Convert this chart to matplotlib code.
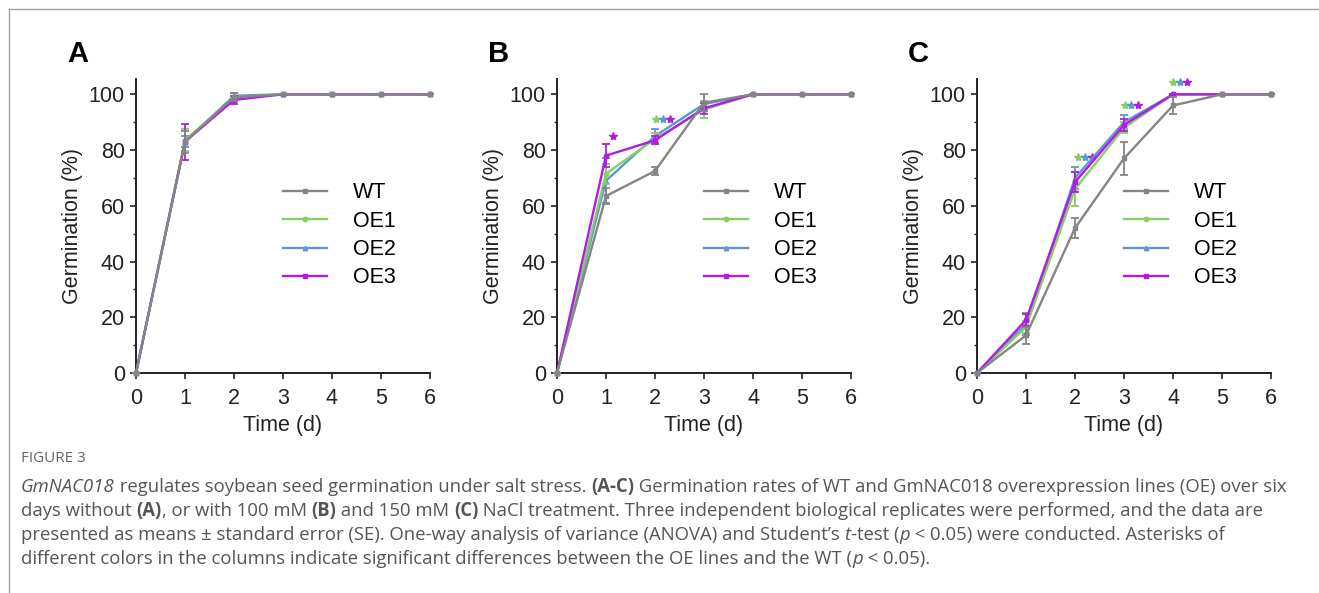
import numpy as np
import matplotlib
matplotlib.use("Agg")
import matplotlib.pyplot as plt
from matplotlib.lines import Line2D

plt.rcParams["font.family"] = ["Liberation Sans", "DejaVu Sans"]

days = [0, 1, 2, 3, 4, 5, 6]
series = ["WT", "OE1", "OE2", "OE3"]

# panel A: no NaCl
a_wt = [0, 83, 99, 100, 100, 100, 100]
a_oe1 = [0, 83.5, 99, 100, 100, 100, 100]
a_oe2 = [0, 83, 99.5, 100, 100, 100, 100]
a_oe3 = [0, 83, 98, 100, 100, 100, 100]
a_wt_se = [0, 4, 1.5, 0, 0, 0, 0]
a_oe1_se = [0, 4, 1.5, 0, 0, 0, 0]
a_oe2_se = [0, 2, 1, 0, 0, 0, 0]
a_oe3_se = [0, 6.5, 1.5, 0, 0, 0, 0]

# panel B: 100 mM NaCl
b_wt = [0, 63.5, 72.5, 97, 100, 100, 100]
b_oe1 = [0, 71.5, 84, 94.5, 100, 100, 100]
b_oe2 = [0, 69, 85, 96.5, 100, 100, 100]
b_oe3 = [0, 78, 83.5, 95, 100, 100, 100]
b_wt_se = [0, 3, 1.5, 3, 0, 0, 0]
b_oe1_se = [0, 3.5, 2, 3, 0, 0, 0]
b_oe2_se = [0, 8, 2.5, 1, 0, 0, 0]
b_oe3_se = [0, 4, 1.5, 2, 0, 0, 0]

# panel C: 150 mM NaCl
c_wt = [0, 13.5, 52, 77, 96, 100, 100]
c_oe1 = [0, 16.5, 66, 88, 100, 100, 100]
c_oe2 = [0, 17.5, 70, 90, 100, 100, 100]
c_oe3 = [0, 19, 68.5, 89, 100, 100, 100]
c_wt_se = [0, 3, 3.5, 6, 3, 0, 0]
c_oe1_se = [0, 2, 6, 2, 0, 0, 0]
c_oe2_se = [0, 4, 4, 2.5, 0, 0, 0]
c_oe3_se = [0, 2, 3.5, 2, 0, 0, 0]

# significance asterisks: (x, y, series)
b_stars = [(1.14, 85, "OE3"), (2.03, 91.3, "OE1"), (2.17, 91.3, "OE2"), (2.30, 91.3, "OE3")]
c_stars = [(2.06, 77.6, "OE1"), (2.20, 77.6, "OE2"), (2.34, 77.6, "OE3"),
           (3.03, 96, "OE1"), (3.15, 96, "OE2"), (3.28, 96, "OE3"),
           (4.00, 104.4, "OE1"), (4.14, 104.4, "OE2"), (4.28, 104.4, "OE3")]

colors = {"WT": "#858585", "OE1": "#86CF62", "OE2": "#5A98D6", "OE3": "#B21AE8"}
markers = {"WT": "s", "OE1": "o", "OE2": "^", "OE3": "s"}
zorders = {"WT": 5, "OE1": 3, "OE2": 2, "OE3": 4}

W, H = 1319, 593
fig = plt.figure(figsize=(W / 100, H / 100), dpi=100)

# frame lines of the figure page
fig.add_artist(Line2D([9 / W, 1], [1 - 9 / H, 1 - 9 / H], color="#a0a0a0", lw=1.0))
fig.add_artist(Line2D([9 / W, 9 / W], [0, 1 - 9 / H], color="#a0a0a0", lw=1.0))


def draw_panel(left_px, letter, means, errs, stars):
    ax = fig.add_axes([left_px / W, (H - 373) / H, 294 / W, 294 / H])
    handles = []
    for name, m, e in zip(series, means, errs):
        c = colors[name]
        ax.errorbar(days, m, yerr=e, color=c, lw=1.7, elinewidth=1.3,
                    capsize=3.2, capthick=1.3, marker=markers[name], ms=3.2,
                    zorder=zorders[name], clip_on=False)
        handles.append(Line2D([], [], color=c, lw=1.7, marker=markers[name], ms=3.2))
    for x, y, name in stars:
        ax.plot(x, y, marker="*", ms=6, color=colors[name], ls="none", clip_on=False)

    ax.set_xlim(0, 6)
    ax.set_ylim(0, 105.5)
    ax.set_xticks(days)
    ax.set_yticks([0, 20, 40, 60, 80, 100])
    ax.set_yticks([10, 30, 50, 70, 90], minor=True)
    ax.spines["top"].set_visible(False)
    ax.spines["right"].set_visible(False)
    for s in ("left", "bottom"):
        ax.spines[s].set_linewidth(1.4)
        ax.spines[s].set_color("#222222")
    ax.tick_params(axis="both", which="major", length=4, width=1.2,
                   labelsize=15.5, colors="#222222")
    ax.tick_params(axis="x", which="major", pad=7)
    ax.tick_params(axis="y", which="major", pad=4)
    ax.tick_params(axis="y", which="minor", length=2.5, width=1.0, colors="#222222")
    ax.set_xlabel("Time (d)", fontsize=15.5, color="#222222", labelpad=4)
    ax.set_ylabel("Germination (%)", fontsize=15.5, color="#222222", labelpad=4)

    ax.legend(handles, series, loc="upper left", bbox_to_anchor=(0.5, 0.648),
              frameon=False, fontsize=15.5, handlelength=2.05, handletextpad=1.2,
              labelspacing=0.34, borderpad=0, borderaxespad=0)

    fig.text((left_px - 69) / W, 1 - 54 / H, letter, fontsize=21, fontweight="bold",
             ha="left", va="center", color="black")
    return ax


draw_panel(136, "A", [a_wt, a_oe1, a_oe2, a_oe3], [a_wt_se, a_oe1_se, a_oe2_se, a_oe3_se], [])
draw_panel(557, "B", [b_wt, b_oe1, b_oe2, b_oe3], [b_wt_se, b_oe1_se, b_oe2_se, b_oe3_se], b_stars)
draw_panel(977, "C", [c_wt, c_oe1, c_oe2, c_oe3], [c_wt_se, c_oe1_se, c_oe2_se, c_oe3_se], c_stars)

# caption
cap_font = ["Open Sans", "DejaVu Sans"]
cap_color = "#555555"
cap_size = 13.35

fig.text(21 / W, 1 - 459 / H, "FIGURE 3", fontsize=11, color="#666666",
         family=cap_font, va="center", ha="left")

caption_lines = [
    [("GmNAC018", "italic", "normal"),
     (" regulates soybean seed germination under salt stress. ", "normal", "normal"),
     ("(A-C)", "normal", "bold"),
     (" Germination rates of WT and GmNAC018 overexpression lines (OE) over six", "normal", "normal")],
    [("days without ", "normal", "normal"), ("(A)", "normal", "bold"),
     (", or with 100 mM ", "normal", "normal"), ("(B)", "normal", "bold"),
     (" and 150 mM ", "normal", "normal"), ("(C)", "normal", "bold"),
     (" NaCl treatment. Three independent biological replicates were performed, and the data are",
      "normal", "normal")],
    [("presented as means \u00b1 standard error (SE). One-way analysis of variance (ANOVA) and Student\u2019s ",
      "normal", "normal"),
     ("t", "italic", "normal"), ("-test (", "normal", "normal"), ("p", "italic", "normal"),
     (" < 0.05) were conducted. Asterisks of", "normal", "normal")],
    [("different colors in the columns indicate significant differences between the OE lines and the WT (",
      "normal", "normal"),
     ("p", "italic", "normal"), (" < 0.05).", "normal", "normal")],
]
line_y = [487, 511, 535, 559]

renderer = fig.canvas.get_renderer()
for runs, y in zip(caption_lines, line_y):
    x = 21.0
    for txt, style, weight in runs:
        t = fig.text(x / W, 1 - y / H, txt, fontsize=cap_size, color=cap_color,
                     family=cap_font, style=style, weight=weight, va="center", ha="left")
        x += t.get_window_extent(renderer).width

fig.savefig("out.png", dpi=100)
